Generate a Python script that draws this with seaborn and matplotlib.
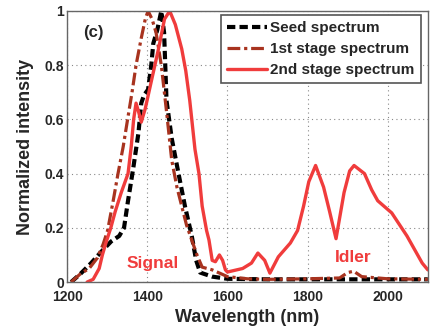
import matplotlib
matplotlib.use("Agg")
import matplotlib.pyplot as plt
import seaborn as sns

# Seed, first-stage and second-stage spectra (wavelength in nm, normalized intensity)
seed_wl = [1210, 1233, 1260, 1284, 1310, 1330, 1342, 1352, 1365, 1378, 1385, 1392, 1402,
           1410, 1415, 1425, 1435, 1442, 1448, 1461, 1478, 1494, 1511, 1522, 1532, 1562,
           1600, 1700, 1800, 1900, 2000, 2100]
seed_int = [0.0, 0.03, 0.07, 0.11, 0.15, 0.17, 0.20, 0.30, 0.42, 0.55, 0.66, 0.69, 0.71,
            0.80, 0.88, 0.93, 1.0, 0.92, 0.67, 0.53, 0.40, 0.28, 0.17, 0.08, 0.035, 0.02,
            0.012, 0.01, 0.01, 0.01, 0.01, 0.01]

stage1_wl = [1210, 1233, 1255, 1276, 1290, 1301, 1315, 1327, 1340, 1352, 1362, 1372, 1385,
             1395, 1402, 1412, 1422, 1435, 1448, 1461, 1474, 1486, 1498, 1511, 1524, 1537,
             1562, 1585, 1600, 1650, 1700, 1800, 1880, 1900, 1915, 1935, 2000, 2100]
stage1_int = [0.0, 0.03, 0.05, 0.09, 0.14, 0.19, 0.30, 0.40, 0.50, 0.61, 0.70, 0.80, 0.90,
              0.97, 1.0, 0.97, 0.92, 0.80, 0.63, 0.45, 0.35, 0.28, 0.21, 0.155, 0.10, 0.055,
              0.045, 0.03, 0.02, 0.012, 0.01, 0.012, 0.015, 0.035, 0.04, 0.02, 0.012, 0.01]

stage2_wl = [1250, 1265, 1280, 1288, 1298, 1309, 1320, 1335, 1352, 1360, 1366, 1372, 1378,
             1385, 1395, 1410, 1428, 1443, 1456, 1470, 1486, 1496, 1506, 1519, 1529, 1537,
             1548, 1554, 1562, 1570, 1580, 1588, 1595, 1600, 1638, 1660, 1676, 1693, 1706,
             1727, 1757, 1775, 1790, 1803, 1820, 1840, 1855, 1871, 1891, 1905, 1916, 1942,
             1960, 1975, 2010, 2048, 2086, 2100]
stage2_int = [0.0, 0.01, 0.05, 0.10, 0.15, 0.20, 0.26, 0.33, 0.40, 0.50, 0.60, 0.66, 0.63,
              0.59, 0.64, 0.74, 0.86, 0.97, 1.0, 0.95, 0.86, 0.78, 0.67, 0.49, 0.40, 0.28,
              0.19, 0.155, 0.08, 0.075, 0.10, 0.08, 0.045, 0.037, 0.05, 0.07, 0.107, 0.08,
              0.033, 0.093, 0.144, 0.19, 0.28, 0.37, 0.43, 0.35, 0.26, 0.16, 0.33, 0.41,
              0.43, 0.40, 0.34, 0.30, 0.255, 0.17, 0.07, 0.045]

series_labels = ["Seed spectrum", "1st stage spectrum", "2nd stage spectrum"]
x_ticks = [1200, 1400, 1600, 1800, 2000]
y_ticks = [0, 0.2, 0.4, 0.6, 0.8, 1]
y_tick_labels = ["0", "0.2", "0.4", "0.6", "0.8", "1"]

sns.set_style("white")
plt.rcParams["font.family"] = ["Liberation Sans", "DejaVu Sans"]
plt.rcParams["font.weight"] = "bold"

fig = plt.figure(figsize=(4.33, 3.33), dpi=100)
ax = fig.add_axes([0.155, 0.153, 0.833, 0.814])

red = "#f03c3c"
brown = "#a8331f"

sns.lineplot(x=seed_wl, y=seed_int, ax=ax, color="black", lw=3.0,
             linestyle=(0, (2.0, 1.0)), label=series_labels[0], sort=False)
sns.lineplot(x=stage1_wl, y=stage1_int, ax=ax, color=brown, lw=2.3,
             linestyle=(0, (4, 1.2, 1, 1.2)), label=series_labels[1], sort=False)
sns.lineplot(x=stage2_wl, y=stage2_int, ax=ax, color=red, lw=2.4,
             linestyle="-", label=series_labels[2], sort=False)

ax.set_xlim(1200, 2100)
ax.set_ylim(0, 1)
ax.set_xticks(x_ticks)
ax.set_yticks(y_ticks)
ax.set_yticklabels(y_tick_labels)
ax.tick_params(direction="in", length=3, labelsize=10, color="#555555")
ax.tick_params(axis="x", pad=6)
ax.tick_params(axis="y", pad=2)
for lbl in ax.get_xticklabels() + ax.get_yticklabels():
    lbl.set_fontweight("bold")

ax.grid(True, linestyle=(0, (1, 3)), color="#888888", lw=0.8)
for s in ax.spines.values():
    s.set_color("#666666")
    s.set_linewidth(1.0)

ax.set_xlabel("Wavelength (nm)", fontsize=13, fontweight="bold", labelpad=3)
ax.set_ylabel("Normalized intensity", fontsize=13, fontweight="bold", labelpad=8)

ax.text(0.072, 0.92, "(c)", transform=ax.transAxes, fontsize=12, fontweight="bold",
        ha="center", va="center")
ax.text(1413, 0.067, "Signal", color=red, fontsize=12.5, fontweight="bold",
        ha="center", va="center")
ax.text(1914, 0.09, "Idler", color=red, fontsize=12.5, fontweight="bold",
        ha="center", va="center")

leg = ax.legend(loc="upper right", bbox_to_anchor=(0.98, 0.985),
                prop={"weight": "bold", "size": 11}, handlelength=2.6, handletextpad=0.2,
                labelspacing=0.45, borderpad=0.4, fancybox=False, framealpha=1,
                edgecolor="#555555", borderaxespad=0.0)
leg.get_frame().set_linewidth(1.2)

fig.savefig("out.png", dpi=100)
